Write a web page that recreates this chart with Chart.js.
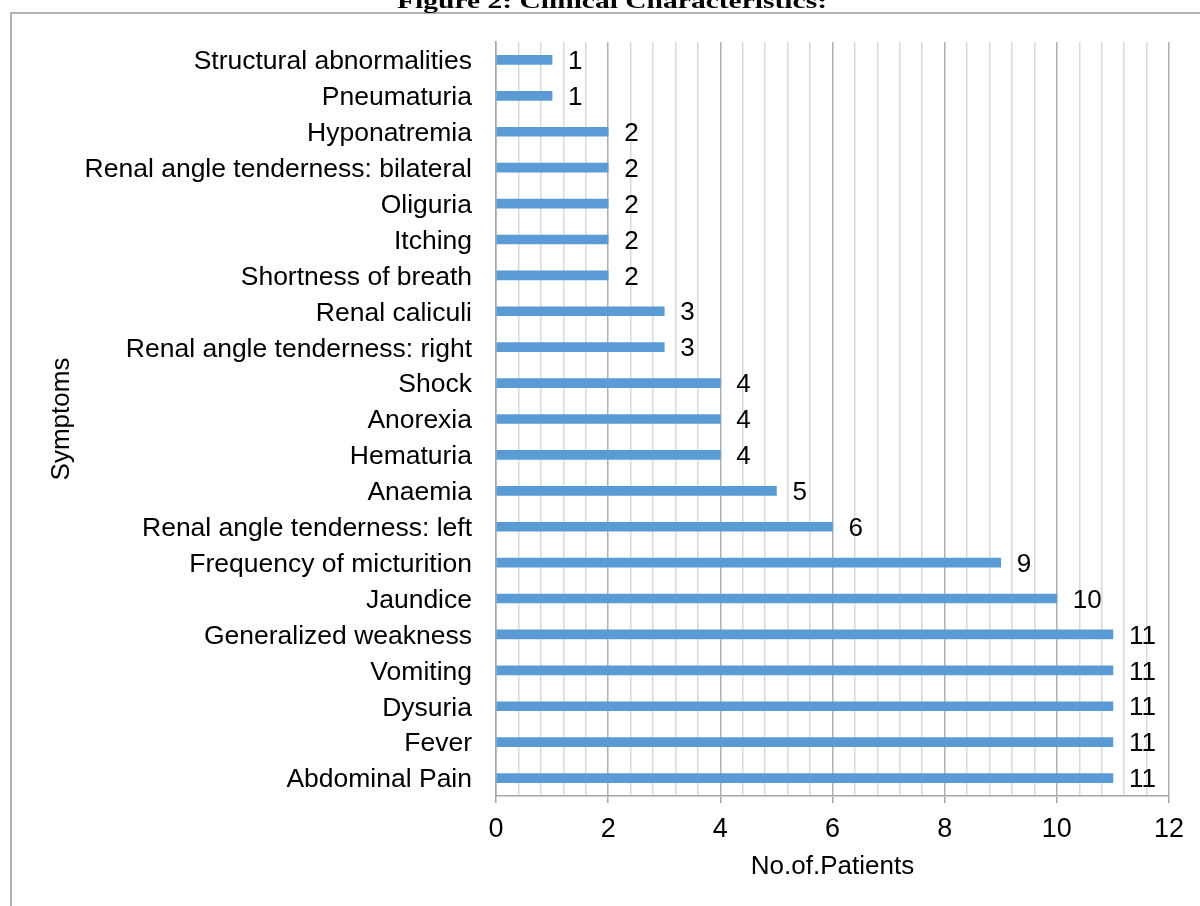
<!DOCTYPE html>
<html>
<head>
<meta charset="utf-8">
<script src="https://cdn.jsdelivr.net/npm/chart.js@4.4.1/dist/chart.umd.min.js"></script>
<style>
  html, body { margin: 0; padding: 0; background: #ffffff; }
  #wrap { width: 1200px; height: 906px; position: relative; }
</style>
</head>
<body>
<div id="wrap"><canvas id="chart" width="1200" height="906"></canvas></div>
<script>
// Symptoms, listed top to bottom as they appear on the axis
const symptoms = [
  'Structural abnormalities',
  'Pneumaturia',
  'Hyponatremia',
  'Renal angle tenderness: bilateral',
  'Oliguria',
  'Itching',
  'Shortness of breath',
  'Renal caliculi',
  'Renal angle tenderness: right',
  'Shock',
  'Anorexia',
  'Hematuria',
  'Anaemia',
  'Renal angle tenderness: left',
  'Frequency of micturition',
  'Jaundice',
  'Generalized weakness',
  'Vomiting',
  'Dysuria',
  'Fever',
  'Abdominal Pain'
];

// Number of patients presenting with each symptom
const patientCounts = [1, 1, 2, 2, 2, 2, 2, 3, 3, 4, 4, 4, 5, 6, 9, 10, 11, 11, 11, 11, 11];

// Value axis range and gridline spacing
const axisMin = 0;
const axisMax = 12;
const minorStep = 0.4;
const labelStep = 2;

const chartTitle = 'Figure 2: Clinical Characteristics:';
const xTitle = 'No.of.Patients';
const yTitle = 'Symptoms';

const SANS = "'Liberation Sans', Arial, Helvetica, sans-serif";
const SERIF = "'Liberation Serif', 'Times New Roman', Times, serif";

const isLabelled = v => Math.abs(v / labelStep - Math.round(v / labelStep)) < 1e-6;

// Page frame and heading
const framePlugin = {
  id: 'frame',
  beforeDraw(chart) {
    const ctx = chart.ctx;
    ctx.save();
    ctx.fillStyle = '#ffffff';
    ctx.fillRect(0, 0, chart.width, chart.height);
    ctx.strokeStyle = '#b3b3b3';
    ctx.lineWidth = 2;
    ctx.beginPath();
    ctx.moveTo(11, chart.height + 5);
    ctx.lineTo(11, 13);
    ctx.lineTo(chart.width + 5, 13);
    ctx.stroke();

    ctx.fillStyle = '#000000';
    ctx.font = 'bold 22px ' + SERIF;
    ctx.textAlign = 'left';
    ctx.textBaseline = 'alphabetic';
    const w = ctx.measureText(chartTitle).width;
    const sx = 430 / w;
    ctx.translate(397, 8);
    ctx.scale(sx, 1);
    ctx.fillText(chartTitle, 0, 0);
    ctx.restore();
  }
};

// Count written to the right of each bar
const valueLabelPlugin = {
  id: 'valueLabels',
  afterDatasetsDraw(chart) {
    const ctx = chart.ctx;
    const meta = chart.getDatasetMeta(0);
    const data = chart.data.datasets[0].data;
    ctx.save();
    ctx.fillStyle = '#000000';
    ctx.font = '26px ' + SANS;
    ctx.textAlign = 'left';
    ctx.textBaseline = 'middle';
    meta.data.forEach((bar, i) => {
      ctx.fillText(String(data[i]), bar.x + 16, bar.y + 2);
    });
    ctx.restore();
  }
};

new Chart(document.getElementById('chart'), {
  type: 'bar',
  data: {
    labels: symptoms,
    datasets: [{
      data: patientCounts,
      backgroundColor: '#5b9bd5',
      borderWidth: 0,
      barThickness: 9
    }]
  },
  options: {
    indexAxis: 'y',
    responsive: false,
    animation: false,
    devicePixelRatio: 1,
    layout: { padding: { top: 42, right: 31, bottom: 0, left: 0 } },
    plugins: {
      legend: { display: false },
      tooltip: { enabled: false },
      title: { display: false }
    },
    scales: {
      x: {
        type: 'linear',
        min: axisMin,
        max: axisMax,
        afterFit(scale) { scale.height = 110; },
        ticks: {
          stepSize: minorStep,
          autoSkip: false,
          maxRotation: 0,
          minRotation: 0,
          padding: 10,
          color: '#000000',
          font: { family: SANS, size: 27 },
          callback: v => (isLabelled(v) ? String(Math.round(v)) : '')
        },
        grid: {
          drawOnChartArea: true,
          lineWidth: 1.5,
          color: ctx => (isLabelled(ctx.tick.value) ? '#b0b0b0' : '#d9d9d9'),
          tickColor: ctx => (isLabelled(ctx.tick.value) ? '#a6a6a6' : 'rgba(0,0,0,0)'),
          tickLength: 7
        },
        border: { display: true, color: '#a6a6a6', width: 1.5 },
        title: {
          display: true,
          text: xTitle,
          color: '#000000',
          font: { family: SANS, size: 26 },
          padding: { top: 0, bottom: 24 }
        }
      },
      y: {
        afterFit(scale) { scale.width = 496; },
        ticks: {
          padding: 24,
          autoSkip: false,
          labelOffset: 2,
          color: '#000000',
          font: { family: SANS, size: 26.5 }
        },
        grid: { display: false, drawTicks: false },
        border: { display: true, color: '#a6a6a6', width: 1.5 },
        title: {
          display: true,
          text: yTitle,
          color: '#000000',
          font: { family: SANS, size: 26 },
          padding: { top: 46, bottom: 0 }
        }
      }
    }
  },
  plugins: [framePlugin, valueLabelPlugin]
});
</script>
</body>
</html>
